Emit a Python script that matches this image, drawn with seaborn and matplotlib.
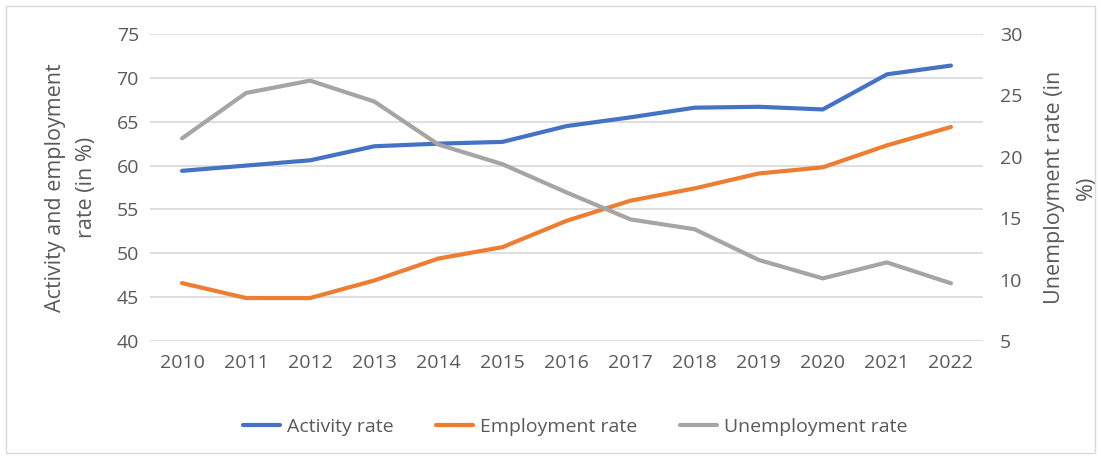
import matplotlib
matplotlib.use("Agg")
import matplotlib.pyplot as plt
import matplotlib.patches as mpatches
from matplotlib.lines import Line2D
import seaborn as sns
import pandas as pd

years = [2010, 2011, 2012, 2013, 2014, 2015, 2016, 2017, 2018, 2019, 2020, 2021, 2022]
activity_rate = [59.4, 60.0, 60.6, 62.2, 62.5, 62.7, 64.5, 65.5, 66.6, 66.7, 66.4, 70.4, 71.4]
employment_rate = [46.6, 44.9, 44.9, 46.9, 49.4, 50.7, 53.7, 56.0, 57.4, 59.1, 59.8, 62.3, 64.4]
unemployment_rate = [21.5, 25.2, 26.2, 24.5, 21.0, 19.4, 17.1, 14.9, 14.1, 11.6, 10.1, 11.4, 9.7]

left_ticks = [40, 45, 50, 55, 60, 65, 70, 75]
right_ticks = [5, 10, 15, 20, 25, 30]

c_act = "#4472C4"
c_emp = "#ED7D31"
c_unemp = "#A5A5A5"
txt = "#595959"

sns.set_theme(style="white")
plt.rcParams['font.family'] = ['Open Sans', 'DejaVu Sans']

df = pd.DataFrame({"year": years, "act": activity_rate, "emp": employment_rate, "unemp": unemployment_rate})

fig = plt.figure(figsize=(11.01, 4.59), dpi=100)
ax = fig.add_axes([150/1101, 1-341/459, (983-150)/1101, (341-34)/459])
ax2 = ax.twinx()

lw = 3.0
sns.lineplot(data=df, x="year", y="act", ax=ax, color=c_act, lw=lw, legend=False)
sns.lineplot(data=df, x="year", y="emp", ax=ax, color=c_emp, lw=lw, legend=False)
sns.lineplot(data=df, x="year", y="unemp", ax=ax2, color=c_unemp, lw=lw, legend=False)

ax.set_ylim(40, 75)
ax2.set_ylim(5, 30)
ax.set_xlim(years[0] - 0.5, years[-1] + 0.5)
ax.set_yticks(left_ticks)
ax2.set_yticks(right_ticks)
ax.set_xticks(years)
ax.set_xticklabels([str(y) for y in years])

ax.grid(axis='y', color="#D9D9D9", lw=1.2)
ax.set_axisbelow(True)
ax2.grid(False)
for a in (ax, ax2):
    for s in a.spines.values():
        s.set_visible(False)
    a.tick_params(axis='both', length=0, labelsize=14, colors=txt)
ax.tick_params(axis='y', pad=8)
ax2.tick_params(axis='y', pad=12)
ax.tick_params(axis='x', pad=9)

ax.set_xlabel("")
ax.set_ylabel("Activity and employment\nrate (in %)", fontsize=15.5, color=txt, labelpad=14, linespacing=1.65)
ax2.set_ylabel("Unemployment rate (in\n%)", fontsize=15.5, color=txt, labelpad=16, linespacing=1.65)

handles = [Line2D([], [], color=c, lw=lw) for c in (c_act, c_emp, c_unemp)]
fig.legend(handles, ["Activity rate", "Employment rate", "Unemployment rate"],
           loc="center", bbox_to_anchor=(575/1101, 1-427/459), ncol=3, frameon=False,
           fontsize=14, labelcolor=txt, handlelength=1.9, handletextpad=0.35, columnspacing=2.2)

fig.patches.append(mpatches.Rectangle((6/1101, 6/459), 1089/1101, 447/459, transform=fig.transFigure,
                                      fill=False, edgecolor="#D9D9D9", lw=1.0))

fig.savefig("out.png", dpi=100)
